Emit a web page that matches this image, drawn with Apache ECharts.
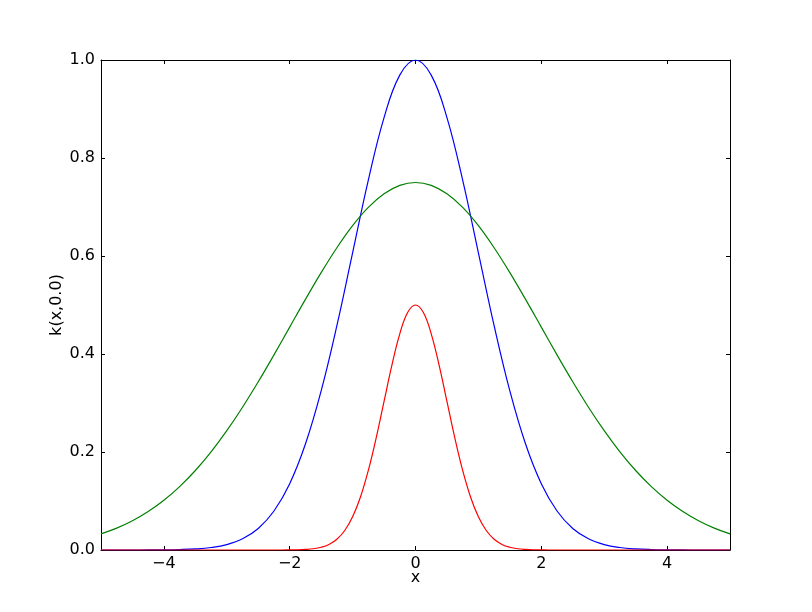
<!DOCTYPE html>
<html>
<head>
<meta charset="utf-8">
<script src="https://cdn.jsdelivr.net/npm/echarts@6/dist/echarts.min.js"></script>
<style>
  html, body { margin: 0; padding: 0; background: #fff; }
  #chart { width: 812px; height: 612px; }
</style>
</head>
<body>
<div id="chart"></div>
<script>
const xTicks = [-4, -2, 0, 2, 4];
const yTicks = [0, 0.2, 0.4, 0.6, 0.8, 1.0];

const xsWide = [-5, -4.75, -4.5, -4.25, -4, -3.75, -3.5, -3.25, -3, -2.75, -2.5, -2.25, -2, -1.75, -1.5, -1.25, -1, -0.75, -0.5, -0.25, 0,
  0.25, 0.5, 0.75, 1, 1.25, 1.5, 1.75, 2, 2.25, 2.5, 2.75, 3, 3.25, 3.5, 3.75, 4, 4.25, 4.5, 4.75, 5];

const blueVals = [0, 0, 0, 0.0001, 0.0003, 0.0009, 0.0022, 0.0051, 0.0111, 0.0228, 0.0439, 0.0796, 0.1353, 0.2163, 0.3247, 0.4578, 0.6065, 0.7548, 0.8825, 0.9692, 1,
  0.9692, 0.8825, 0.7548, 0.6065, 0.4578, 0.3247, 0.2163, 0.1353, 0.0796, 0.0439, 0.0228, 0.0111, 0.0051, 0.0022, 0.0009, 0.0003, 0.0001, 0, 0, 0];

const greenVals = [0.0329, 0.0447, 0.0597, 0.0785, 0.1015, 0.1293, 0.1622, 0.2003, 0.2435, 0.2914, 0.3433, 0.3983, 0.4549, 0.5114, 0.5661, 0.6169, 0.6619, 0.6991, 0.7269, 0.7442, 0.75,
  0.7442, 0.7269, 0.6991, 0.6619, 0.6169, 0.5661, 0.5114, 0.4549, 0.3983, 0.3433, 0.2914, 0.2435, 0.2003, 0.1622, 0.1293, 0.1015, 0.0785, 0.0597, 0.0447, 0.0329];

const xsRed = [-5, -2.5, -2.375, -2.25, -2.125, -2, -1.875, -1.75, -1.625, -1.5, -1.375, -1.25, -1.125, -1, -0.875, -0.75, -0.625, -0.5, -0.375, -0.25, -0.125, 0,
  0.125, 0.25, 0.375, 0.5, 0.625, 0.75, 0.875, 1, 1.125, 1.25, 1.375, 1.5, 1.625, 1.75, 1.875, 2, 2.125, 2.25, 2.375, 2.5, 5];

const redVals = [0, 0, 0, 0, 0, 0.0002, 0.0004, 0.0011, 0.0025, 0.0056, 0.0114, 0.0220, 0.0398, 0.0677, 0.1082, 0.1624, 0.2289, 0.3033, 0.3774, 0.4412, 0.4846, 0.5,
  0.4846, 0.4412, 0.3774, 0.3033, 0.2289, 0.1624, 0.1082, 0.0677, 0.0398, 0.0220, 0.0114, 0.0056, 0.0025, 0.0011, 0.0004, 0.0002, 0, 0, 0, 0, 0];

const pairs = (xs, ys) => xs.map((x, i) => [x, ys[i]]);
const FONT = 'DejaVu Sans';
const minus = v => String(v).replace('-', '\u2212');

const chart = echarts.init(document.getElementById('chart'), null, { renderer: 'canvas' });

const axisLine = { show: true, onZero: false, lineStyle: { color: '#000', width: 1 } };
const tick = { show: true, inside: true, length: 4, lineStyle: { color: '#000', width: 1 } };

chart.setOption({
  animation: false,
  backgroundColor: '#fff',
  grid: { left: 101, right: 82, top: 60, bottom: 62, containLabel: false },
  xAxis: [
    {
      type: 'value', min: -5, max: 5, position: 'bottom',
      name: 'x', nameLocation: 'middle', nameGap: 20, nameMoveOverlap: false,
      nameTextStyle: { fontFamily: FONT, fontSize: 16, color: '#000' },
      axisLine: axisLine,
      axisTick: Object.assign({ customValues: xTicks }, tick),
      axisLabel: { customValues: xTicks, formatter: v => minus(v), fontFamily: FONT, fontSize: 16, color: '#000', margin: 6 },
      splitLine: { show: false }
    },
    {
      type: 'value', min: -5, max: 5, position: 'top',
      axisLine: axisLine,
      axisTick: Object.assign({ customValues: xTicks }, tick),
      axisLabel: { show: false },
      splitLine: { show: false }
    }
  ],
  yAxis: [
    {
      type: 'value', min: 0, max: 1, interval: 0.2, position: 'left',
      name: 'k(x,0.0)', nameLocation: 'middle', nameGap: 36, nameRotate: 90, nameMoveOverlap: false,
      nameTextStyle: { fontFamily: FONT, fontSize: 16, color: '#000' },
      axisLine: axisLine,
      axisTick: tick,
      axisLabel: { formatter: v => v.toFixed(1), fontFamily: FONT, fontSize: 16, color: '#000', margin: 6 },
      splitLine: { show: false }
    },
    {
      type: 'value', min: 0, max: 1, interval: 0.2, position: 'right',
      axisLine: axisLine,
      axisTick: tick,
      axisLabel: { show: false },
      splitLine: { show: false }
    }
  ],
  series: [
    {
      type: 'line', data: pairs(xsWide, blueVals), showSymbol: false,
      smooth: 0.4,
      lineStyle: { color: '#0000ff', width: 1.2 }, itemStyle: { color: '#0000ff' }
    },
    {
      type: 'line', data: pairs(xsWide, greenVals), showSymbol: false,
      smooth: 0.4,
      lineStyle: { color: '#008000', width: 1.2 }, itemStyle: { color: '#008000' }
    },
    {
      type: 'line', data: pairs(xsRed, redVals), showSymbol: false,
      smooth: 0.4,
      lineStyle: { color: '#ff0000', width: 1.2 }, itemStyle: { color: '#ff0000' }
    }
  ]
});
</script>
</body>
</html>
